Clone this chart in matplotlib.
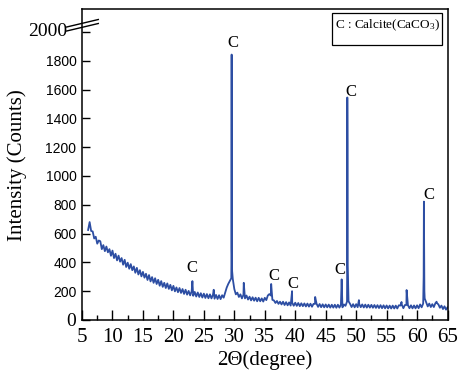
import matplotlib
matplotlib.use("Agg")
import matplotlib.pyplot as plt
from matplotlib.lines import Line2D
from matplotlib.patches import Rectangle
from matplotlib.transforms import blended_transform_factory
import numpy as np

serif = "Liberation Serif"
sans = "Liberation Sans"
plt.rcParams["mathtext.fontset"] = "custom"
plt.rcParams["mathtext.rm"] = serif
plt.rcParams["mathtext.it"] = serif + ":italic"

# XRD pattern: baseline on a 0.25 deg grid (6.0 .. 65.0)
grid_start = 6.0
grid_step = 0.25
base_counts = [
    625, 680, 618, 615, 566, 578, 530, 552,
    547, 492, 520, 478, 510, 470, 492, 446,
    482, 430, 460, 414, 447, 405, 430, 384,
    418, 368, 398, 356, 388, 346, 372, 328,
    362, 316, 346, 303, 334, 294, 321, 278,
    312, 268, 298, 258, 290, 250, 279, 238,
    270, 230, 258, 222, 254, 216, 244, 206,
    237, 199, 226, 193, 222, 188, 215, 181,
    210, 176, 202, 171, 199, 168, 195, 163,
    191, 160, 186, 156, 183, 153, 180, 151,
    178, 150, 176, 148, 174, 146, 172, 145,
    172, 155, 190, 225, 250, 270, 290, 285,
    215, 178, 190, 160, 178, 150, 175, 150,
    170, 142, 162, 136, 158, 134, 155, 130,
    154, 130, 150, 128, 154, 138, 170, 180,
    170, 140, 136, 118, 132, 112, 127, 108,
    127, 104, 124, 102, 122, 100, 120, 99,
    120, 98, 118, 96, 116, 96, 115, 94,
    114, 93, 113, 92, 112, 112, 113, 91,
    111, 89, 109, 88, 108, 88, 107, 86,
    106, 86, 106, 85, 106, 86, 108, 88,
    108, 98, 128, 130, 112, 90, 110, 88,
    110, 89, 112, 89, 108, 87, 107, 86,
    106, 86, 105, 85, 104, 84, 103, 83,
    103, 82, 102, 81, 101, 80, 100, 80,
    100, 80, 100, 80, 102, 100, 106, 82,
    104, 104, 103, 82, 102, 81, 101, 81,
    102, 82, 108, 88, 114, 150, 122, 94,
    114, 90, 110, 90, 116, 118, 108, 85,
    100, 76, 95, 72, 88,
]

# sharp reflections between grid points
peak_theta = [23.12, 26.62, 29.52, 29.56, 29.59, 29.64, 31.55, 36.05, 39.48,
              43.27, 47.62, 48.52, 48.55, 48.58, 48.61, 50.45, 57.45, 58.28,
              61.08, 61.12, 61.16, 61.20, 63.20]
peak_counts = [270, 210, 380, 1843, 500, 340, 258, 250, 200,
               160, 282, 300, 1545, 1230, 380, 138, 125, 208,
               300, 822, 474, 200, 127]

# "C" markers
label_theta = [23.0, 29.75, 36.5, 39.6, 47.3, 49.1, 62.0]
label_counts = [362, 1920, 306, 250, 348, 1580, 870]

x_ticks = [5, 10, 15, 20, 25, 30, 35, 40, 45, 50, 55, 60, 65]
y_ticks = [0, 200, 400, 600, 800, 1000, 1200, 1400, 1600, 1800, 2000]

theta = grid_start + grid_step * np.arange(len(base_counts))
x = np.concatenate([theta, peak_theta])
y = np.concatenate([base_counts, peak_counts])
order = np.argsort(x)
x, y = x[order], y[order]

fig = plt.figure(figsize=(4.6, 3.8), dpi=100)
ax = fig.add_axes([0.1783, 0.1579, 0.7946, 0.8171])

ax.plot(x, y, color="#2d4ea3", lw=1.3)

for tx, ty in zip(label_theta, label_counts):
    ax.text(tx, ty, "C", family=serif, fontsize=12, ha="center", va="center")

ax.set_xlim(5, 65)
ax.set_ylim(0, 2156)
ax.set_xticks(x_ticks)
ax.set_xticks(np.array(x_ticks[:-1]) + 2.5, minor=True)
ax.set_yticks(y_ticks)
ax.set_xticklabels([str(t) for t in x_ticks], family=serif, fontsize=15)
ylab_text = [str(t) for t in y_ticks]
ylab_text[-1] = ""   # 2000 is drawn by hand, left of the break marks
ax.set_yticklabels(ylab_text, family=sans, fontsize=10)
ylabs = ax.get_yticklabels()
ylabs[0].set_fontfamily(serif)
ylabs[0].set_fontsize(14)
ax.text(-0.041, y_ticks[-1], str(y_ticks[-1]), family=serif, fontsize=14,
        ha="right", va="center",
        transform=blended_transform_factory(ax.transAxes, ax.transData))

ax.tick_params(axis="x", which="major", direction="in", length=7, width=1, pad=6)
ax.tick_params(axis="x", which="minor", direction="in", length=3.6, width=1)
ax.tick_params(axis="y", direction="in", length=5.8, width=1, pad=4)
for s in ax.spines.values():
    s.set_linewidth(1.1)

ax.set_xlabel("2\u0398(degree)", family=serif, fontsize=15, labelpad=2)
ax.set_ylabel("Intensity (Counts)", family=serif, fontsize=15, va="center")
ax.yaxis.set_label_coords(-0.178, 0.5)

# legend box
ax.add_patch(Rectangle((0.683, 0.887), 0.303, 0.103, transform=ax.transAxes,
                       fill=False, lw=0.9, ec="black"))
ax.text(0.836, 0.948, "C : Calcite(CaCO$_3$)", transform=ax.transAxes,
        family=serif, fontsize=9.5, ha="center", va="center")

# axis break marks near 2000
for dy in (0, 4):
    fig.add_artist(Line2D([66.7 / 460, 98.3 / 460],
                          [1 - (27 + dy) / 380, 1 - (19.5 + dy) / 380],
                          transform=fig.transFigure, color="black", lw=1))

fig.savefig("out.png", dpi=100)
